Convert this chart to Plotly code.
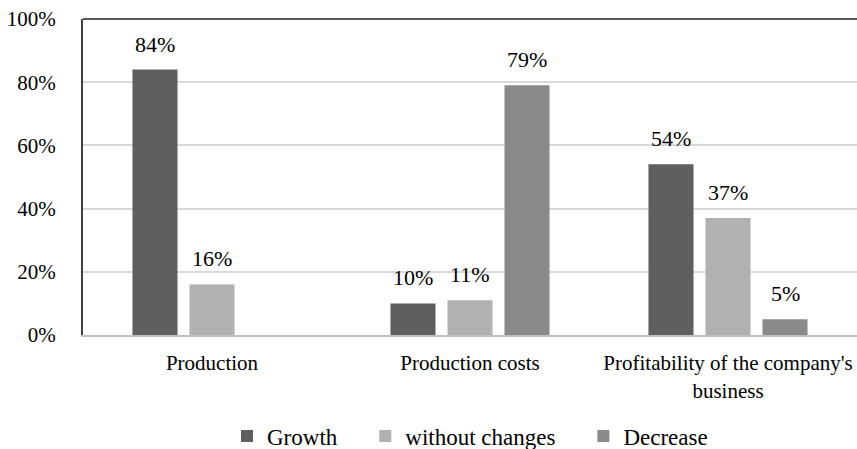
import plotly.graph_objects as go

categories = ["Production", "Production costs", "Profitability of the company's<br>business"]
series_names = ["Growth", "without changes", "Decrease"]
growth = [84, 10, 54]
without_changes = [16, 11, 37]
decrease = [None, 79, 5]
y_ticks = [0, 20, 40, 60, 80, 100]

colors = ["#5f5f5f", "#b1b1b1", "#8a8a8a"]
FONT = "Liberation Serif"
PAD = "\u00a0\u00a0\u00a0\u00a0"

fig = go.Figure()
all_series = [growth, without_changes, decrease]
for name, vals, col in zip(series_names, all_series, colors):
    fig.add_trace(go.Bar(
        x=categories,
        y=[v / 100 if v is not None else None for v in vals],
        name=name + PAD,
        marker=dict(color=col, line=dict(width=0)),
    ))

# value labels above each bar
slot = 57
for i, vals in enumerate(all_series):
    for cat, v in zip(categories, vals):
        if v is None:
            continue
        fig.add_annotation(
            x=cat, y=v / 100, xref="x", yref="y",
            text=f"{v}%", showarrow=False,
            xshift=(i - 1) * slot, yshift=11, yanchor="bottom",
            font=dict(family=FONT, size=22, color="#000000"),
        )

# dark top border of the plot area
fig.add_shape(type="line", xref="paper", yref="paper", x0=0, x1=1, y0=1, y1=1,
              line=dict(color="#595959", width=2))

fig.update_layout(
    width=857, height=449,
    margin=dict(l=83, r=0, t=19, b=114, autoexpand=False),
    paper_bgcolor="white", plot_bgcolor="white",
    barmode="group", bargap=0.337, bargroupgap=0.21,
    font=dict(family=FONT, size=21, color="#000000"),
    showlegend=True,
    legend=dict(orientation="h", x=227 / 857, xanchor="left", xref="container",
                y=13 / 449, yanchor="middle", yref="container",
                font=dict(family=FONT, size=23, color="#000000"),
                traceorder="normal"),
    xaxis=dict(
        showline=True, linecolor="#c0c0c0", linewidth=2,
        showgrid=False, ticks="", ticklabelstandoff=8,
        tickfont=dict(family=FONT, size=21, color="#000000"),
    ),
    yaxis=dict(
        range=[0, 1], tickvals=[t / 100 for t in y_ticks],
        ticktext=[f"{t}%" for t in y_ticks],
        showline=True, linecolor="#404040", linewidth=2,
        showgrid=True, gridcolor="#d9d9d9", gridwidth=2,
        zeroline=False, ticks="", ticklabelstandoff=21,
        tickfont=dict(family=FONT, size=21, color="#000000"),
    ),
)

fig.write_html("out.html")
